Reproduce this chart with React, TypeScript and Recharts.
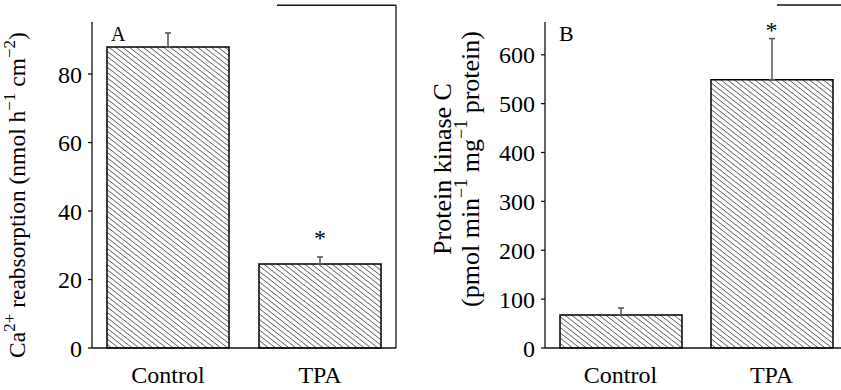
import React from 'react';
import { BarChart, Bar, XAxis, YAxis, ErrorBar, ReferenceLine, ReferenceDot } from 'recharts';

const categories = ['Control', 'TPA'];
const positions = [0.5, 1.5];
const caValues = [87.9, 24.5];
const caErrors = [4.1, 2.1];
const pkcValues = [67.6, 549];
const pkcErrors = [14.3, 84];
const significance = ['', '*'];
const caTicks = [0, 20, 40, 60, 80];
const pkcTicks = [0, 100, 200, 300, 400, 500, 600];
const frameTicks = [0, 1, 2];

const FONT = '"Liberation Serif", "Times New Roman", serif';

const dataA = categories.map((c, i) => ({ name: c, pos: positions[i], value: caValues[i], err: [0, caErrors[i]], sig: significance[i], top: caValues[i] + caErrors[i] }));
const dataB = categories.map((c, i) => ({ name: c, pos: positions[i], value: pkcValues[i], err: [0, pkcErrors[i]], sig: significance[i], top: pkcValues[i] + pkcErrors[i] }));

const fmtCat = (v: number) => {
  const i = positions.indexOf(v);
  return i >= 0 ? categories[i] : '';
};

const tickStyle = { fill: '#000', fontSize: 24, fontFamily: FONT };

const YLabelA = (props: any) => {
  const vb = props.viewBox || { x: 32, y: 22, width: 60, height: 326 };
  const cx = vb.x - 15;
  const cy = vb.y + vb.height / 2 + 10;
  return (
    <text x={cx} y={cy} transform={`rotate(-90 ${cx} ${cy})`} textAnchor="middle" dominantBaseline="central" fill="#000" fontFamily={FONT} fontSize={23.5}>
      <tspan>Ca</tspan>
      <tspan dy={-8} fontSize={17}>2+</tspan>
      <tspan dy={8}> reabsorption (nmol h</tspan>
      <tspan dy={-8} fontSize={17}>−1</tspan>
      <tspan dy={8}> cm</tspan>
      <tspan dy={-8} fontSize={17}>−2</tspan>
      <tspan dy={8}>)</tspan>
    </text>
  );
};

const YLabelB = (props: any) => {
  const vb = props.viewBox || { x: 65, y: 22, width: 60, height: 326 };
  const cx1 = vb.x - 43;
  const cx2 = vb.x - 15;
  const cy = vb.y + vb.height / 2 - 16;
  return (
    <g>
      <text x={cx1} y={cy} transform={`rotate(-90 ${cx1} ${cy})`} textAnchor="middle" dominantBaseline="central" fill="#000" fontFamily={FONT} fontSize={26}>
        Protein kinase C
      </text>
      <text x={cx2} y={cy} transform={`rotate(-90 ${cx2} ${cy})`} textAnchor="middle" dominantBaseline="central" fill="#000" fontFamily={FONT} fontSize={26}>
        <tspan>(pmol min</tspan>
        <tspan dy={-9} fontSize={18}>−1</tspan>
        <tspan dy={9}> mg</tspan>
        <tspan dy={-9} fontSize={18}>−1</tspan>
        <tspan dy={9}> protein)</tspan>
      </text>
    </g>
  );
};

const Hatch = ({ id }: { id: string }) => (
  <defs>
    <pattern id={id} patternUnits="userSpaceOnUse" width={4.2} height={8} patternTransform="rotate(-52)">
      <rect width={4.2} height={8} fill="#fff" />
      <line x1={0} y1={0} x2={0} y2={8} stroke="#222" strokeWidth={1.2} />
    </pattern>
  </defs>
);

const axisStroke = { stroke: '#111', strokeWidth: 1.3 };

export default function App() {
  return (
    <div style={{ position: 'absolute', left: 0, top: 0, width: 841, height: 390, overflow: 'hidden', background: '#fff' }}>
      <div style={{ position: 'absolute', left: 0, top: 0 }}>
        <BarChart width={420} height={390} data={dataA} margin={{ top: 22, right: 24, bottom: 0, left: 32 }}>
          <Hatch id="hatchA" />
          <XAxis xAxisId="frame" dataKey="pos" type="number" domain={[0, 2]} ticks={frameTicks} tick={false} tickSize={12} height={12} axisLine={axisStroke} tickLine={axisStroke} />
          <XAxis xAxisId="lbl" dataKey="pos" type="number" domain={[0, 2]} ticks={positions} tickFormatter={fmtCat} axisLine={false} tickLine={false} tickSize={0} tickMargin={6} height={30} tick={tickStyle} />
          <YAxis type="number" domain={[0, 95.2]} ticks={caTicks} tickSize={4} tickMargin={6} width={60} axisLine={axisStroke} tickLine={axisStroke} tick={tickStyle} label={<YLabelA />} />
          <Bar xAxisId="frame" dataKey="value" fill="url(#hatchA)" stroke="#000" strokeWidth={1.5} barSize={122} isAnimationActive={false}>
            <ErrorBar dataKey="err" direction="y" width={3} stroke="#555" strokeWidth={1.5} isAnimationActive={false} />
          </Bar>
          <ReferenceLine xAxisId="frame" segment={[{ x: 2, y: 0 }, { x: 2, y: 100.1 }]} ifOverflow="visible" stroke="#111" strokeWidth={1.3} />
          <ReferenceLine xAxisId="frame" segment={[{ x: 1.217, y: 100.1 }, { x: 2, y: 100.1 }]} ifOverflow="visible" stroke="#111" strokeWidth={1.5} />
          {dataA.filter((d) => d.sig).map((d) => (
            <ReferenceDot key={d.name} xAxisId="frame" x={d.pos} y={d.top} r={0} ifOverflow="visible" label={{ value: d.sig, position: 'top', offset: 11, fill: '#000', fontSize: 24, fontFamily: FONT }} />
          ))}
          <text x={111} y={41} fontFamily={FONT} fontSize={20} fill="#000">A</text>
        </BarChart>
      </div>
      <div style={{ position: 'absolute', left: 420, top: 0 }}>
        <BarChart width={430} height={390} data={dataB} margin={{ top: 22, right: 3, bottom: 0, left: 65 }}>
          <Hatch id="hatchB" />
          <XAxis xAxisId="frame" dataKey="pos" type="number" domain={[0, 2]} ticks={frameTicks} tick={false} tickSize={12} height={12} axisLine={axisStroke} tickLine={axisStroke} />
          <XAxis xAxisId="lbl" dataKey="pos" type="number" domain={[0, 2]} ticks={positions} tickFormatter={fmtCat} axisLine={false} tickLine={false} tickSize={0} tickMargin={6} height={30} tick={tickStyle} />
          <YAxis type="number" domain={[0, 667]} ticks={pkcTicks} tickSize={4} tickMargin={6} width={60} axisLine={axisStroke} tickLine={axisStroke} tick={tickStyle} label={<YLabelB />} />
          <Bar xAxisId="frame" dataKey="value" fill="url(#hatchB)" stroke="#000" strokeWidth={1.5} barSize={122} isAnimationActive={false}>
            <ErrorBar dataKey="err" direction="y" width={3} stroke="#555" strokeWidth={1.5} isAnimationActive={false} />
          </Bar>
          <ReferenceLine xAxisId="frame" segment={[{ x: 1.536, y: 702 }, { x: 2, y: 702 }]} ifOverflow="visible" stroke="#111" strokeWidth={1.5} />
          {dataB.filter((d) => d.sig).map((d) => (
            <ReferenceDot key={d.name} xAxisId="frame" x={d.pos} y={d.top} r={0} ifOverflow="visible" label={{ value: d.sig, position: 'top', offset: 1, fill: '#000', fontSize: 24, fontFamily: FONT }} />
          ))}
          <text x={139} y={41} fontFamily={FONT} fontSize={22} fill="#000">B</text>
        </BarChart>
      </div>
    </div>
  );
}
